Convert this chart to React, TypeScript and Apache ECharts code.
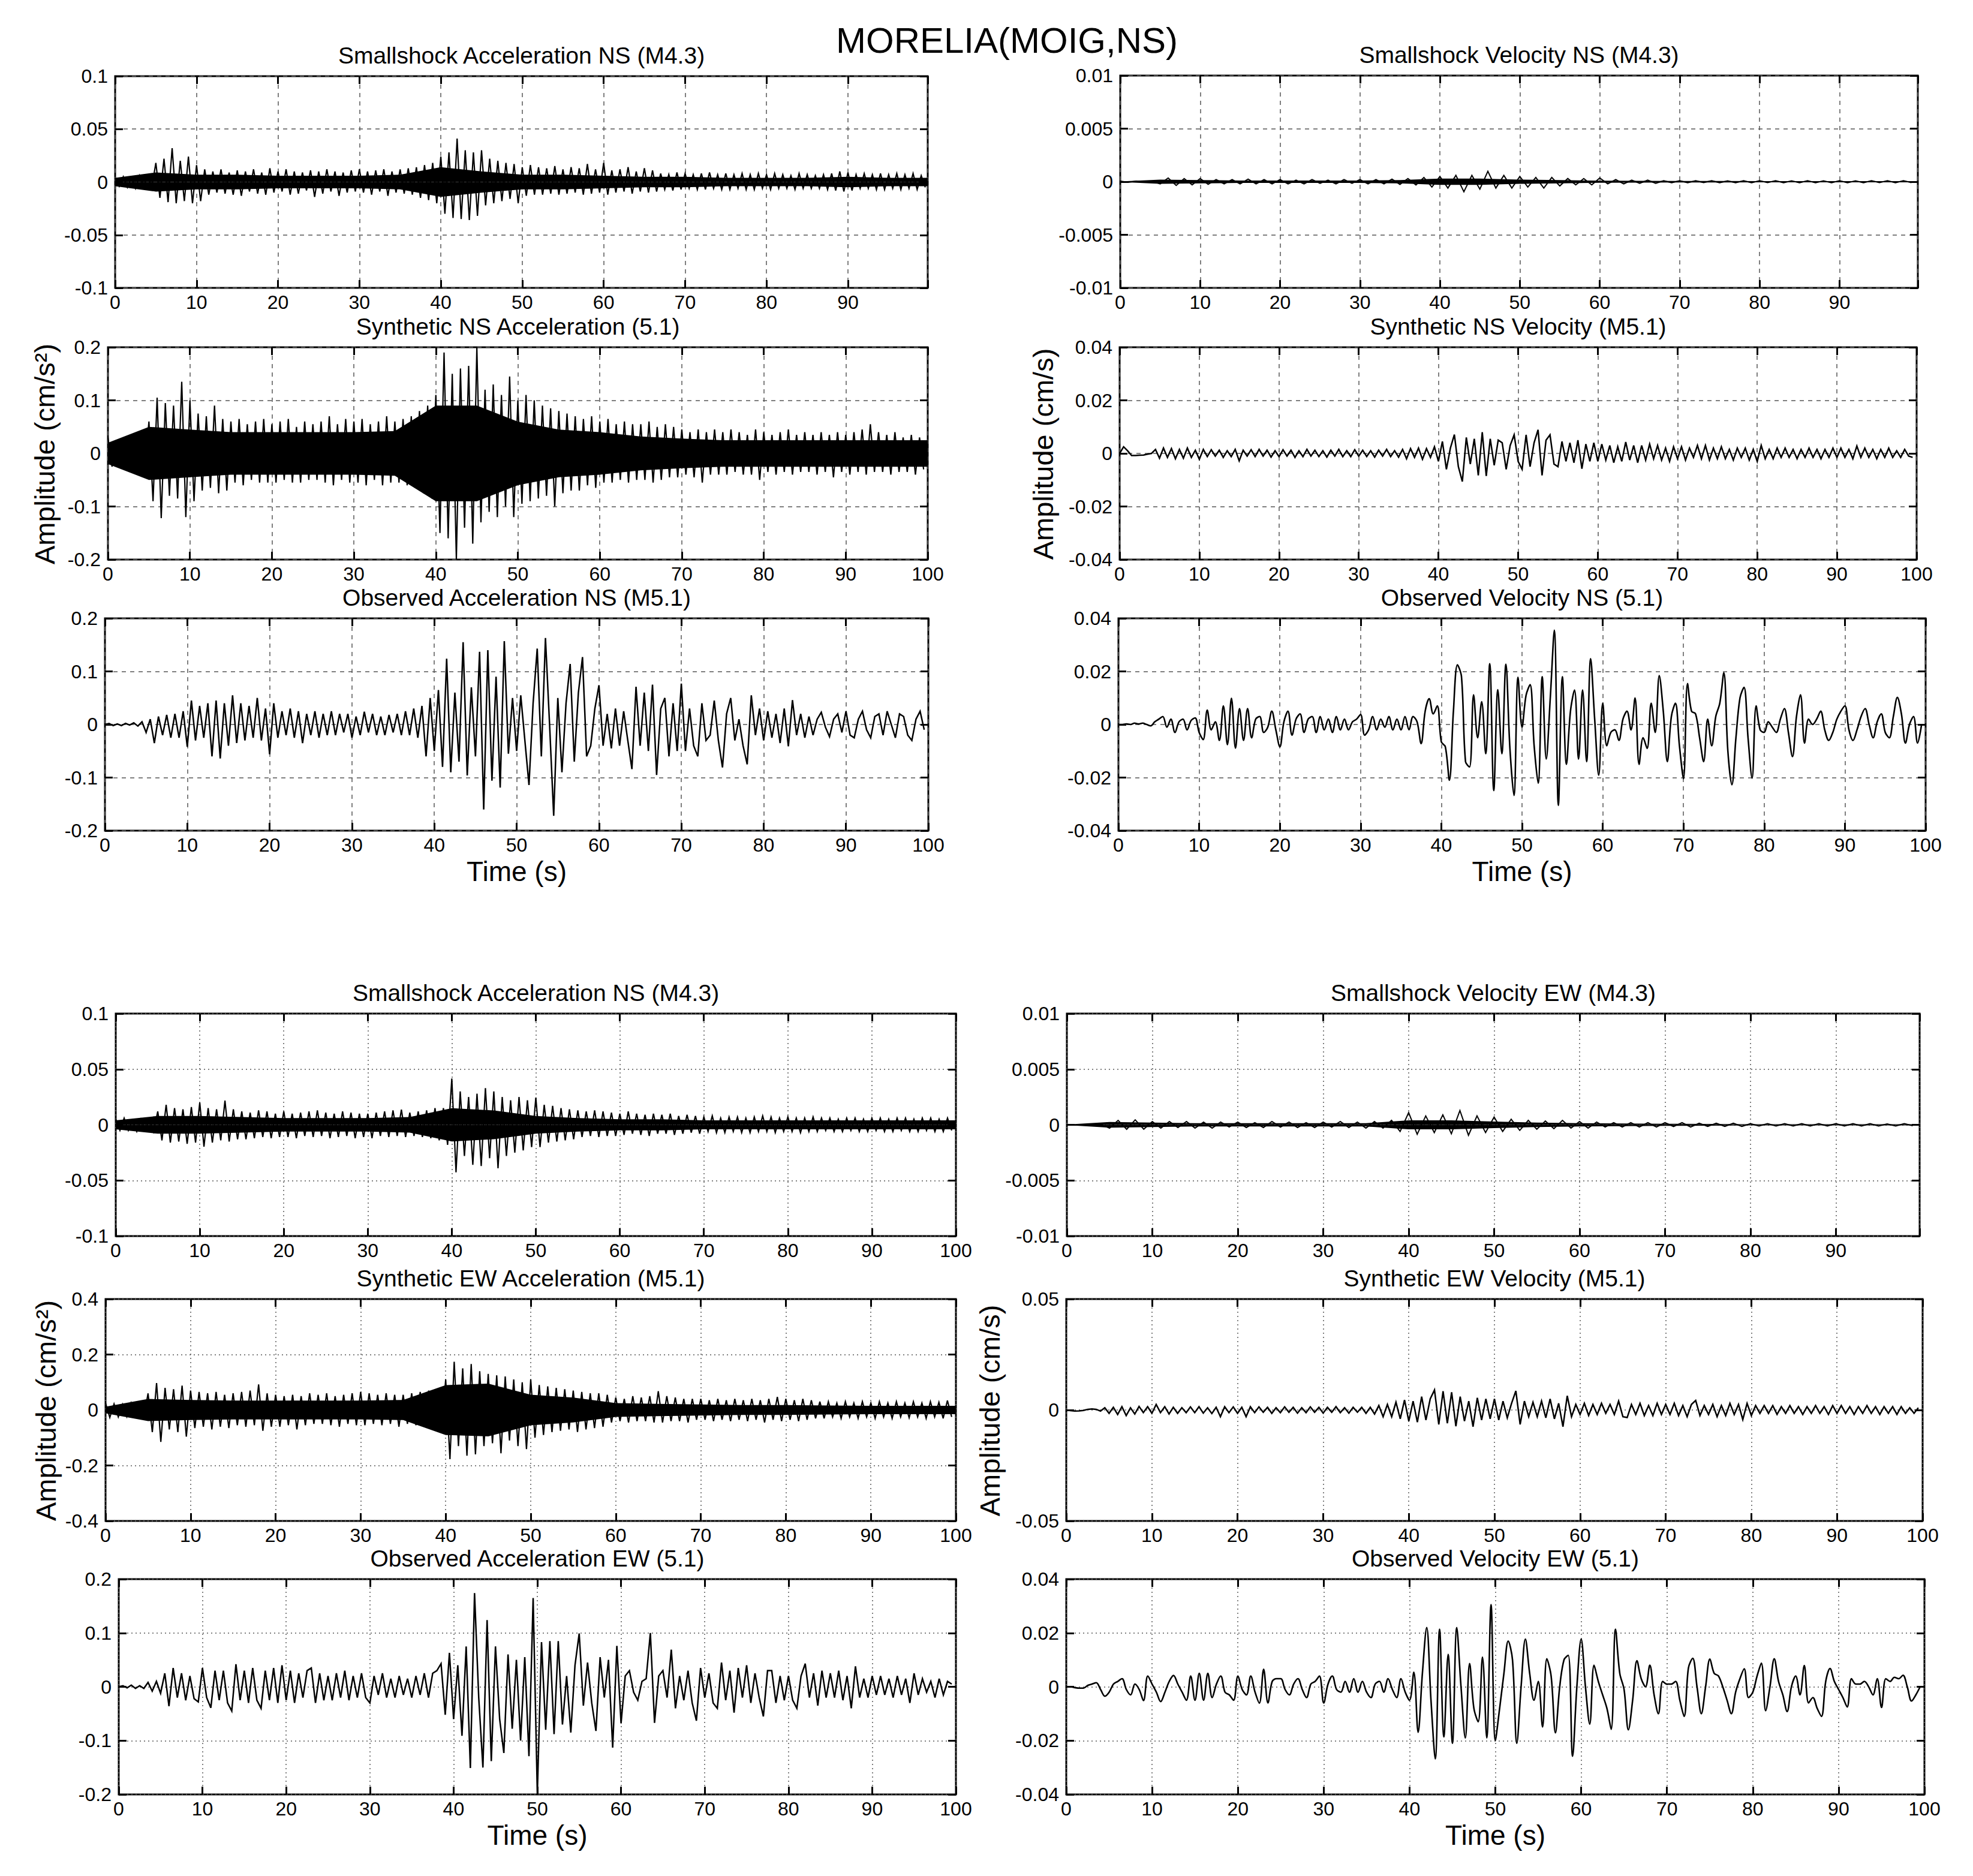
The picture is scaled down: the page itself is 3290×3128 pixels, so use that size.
import React, { useEffect, useRef } from 'react';
import * as echarts from 'echarts';

const FONT = 'Liberation Sans, Arial, Helvetica, sans-serif';

// ---------- DATA ----------
// Sample step (s) of each trace
const DT_HALF = 0.5;
const DT_ONE = 1;
const DT_CORE = 5;

// Smallshock acceleration NS (top-left), units 1e-3 cm/s², every 0.5 s
const smallAccNS = [
  4,-4,5,-5,4,-6,6,-4,5,-5,
  18,-15,22,-19,32,-20,20,-18,24,-20,
  16,-18,12,-12,10,-10,12,-11,9,-12,
  11,-13,10,-9,12,-11,9,-12,13,-10,
  10,-9,12,-12,10,-11,9,-8,11,-14,
  10,-11,12,-9,10,-13,9,-10,11,-9,
  12,-10,10,-12,11,-9,12,-13,10,-10,
  12,-11,13,-12,14,-15,16,-17,18,-20,
  24,-30,28,-34,41,-35,30,-36,28,-32,
  30,-22,22,-20,20,-18,18,-16,17,-20,
  14,-13,16,-12,14,-12,13,-11,15,-12,
  12,-11,14,-10,13,-12,17,-11,12,-10,
  18,-12,11,-10,12,-9,14,-11,10,-9,
  13,-10,11,-9,8,-7,7,-8,9,-7,
  8,-6,7,-7,8,-7,9,-6,7,-7,
  8,-7,7,-6,8,-7,7,-7,8,-6,
  7,-7,8,-6,7,-6,6,-7,8,-6,
  7,-6,6,-6,7,-7,8,-8,10,-9,
  9,-8,7,-6,8,-6,7,-7,8,-7,
  7,-6,8,-7,7,-6,8,-7,6,-5,
];
// solid core half-width of that trace, every 5 s (1e-3)
const smallAccNSCore = [4,9,7,7,6,6,6,7,14,10,7,7,6,5,5,4,4,4,5,4,4];

// Synthetic NS acceleration, units 1e-3 cm/s², every 0.5 s
const synAccNS = [
  30,-25,25,-28,20,-25,30,-28,35,-30,
  60,-90,105,-122,95,-80,90,-85,135,-120,
  100,-90,75,-70,70,-65,90,-75,65,-70,
  60,-55,65,-60,55,-50,60,-55,65,-55,
  55,-55,60,-50,65,-55,50,-55,60,-50,
  55,-50,60,-55,70,-60,55,-50,65,-55,
  60,-55,65,-60,55,-50,60,-60,70,-55,
  60,-55,65,-60,70,-65,80,-75,90,-85,
  110,-150,190,-160,150,-200,160,-140,165,-170,
  200,-130,120,-110,130,-120,110,-100,145,-120,
  100,-95,110,-90,100,-85,90,-80,85,-100,
  80,-75,75,-70,70,-70,65,-60,70,-65,
  60,-55,65,-55,55,-50,60,-55,55,-50,
  55,-50,60,-55,50,-50,55,-45,50,-45,
  45,-40,40,-45,45,-55,40,-40,45,-40,
  40,-40,45,-35,40,-40,35,-40,45,-50,
  40,-35,35,-40,40,-35,45,-40,35,-35,
  40,-35,35,-40,40,-35,35,-45,40,-35,
  35,-40,40,-35,45,-40,55,-35,40,-35,
  35,-40,40,-35,30,-35,35,-40,30,-30,
];
const synAccNSCore = [20,50,45,40,40,40,40,42,90,90,60,45,40,32,28,25,25,25,25,25,25];

// Observed NS acceleration, units 1e-3 cm/s², every 0.5 s
const obsAccNS = [
  0,2,-2,1,-2,2,-1,3,-3,5,
  -15,10,-35,15,-20,18,-25,20,-25,25,
  -42,45,-30,35,-25,40,-60,45,-64,40,
  -40,55,-35,40,-30,35,-25,50,-30,30,
  -56,40,-25,25,-20,30,-25,25,-35,20,
  -20,25,-25,20,-20,25,-20,20,-15,20,
  -25,15,-20,24,-15,20,-20,15,-20,18,
  -15,20,-20,25,-20,30,-25,35,-60,50,
  -50,65,-80,124,-90,60,-70,155,-96,70,
  -60,137,-160,140,-106,90,-119,157,-55,50,
  -50,55,-30,-114,40,143,-60,163,0,-172,
  50,-90,40,114,-70,60,127,-60,-40,30,
  74,-40,20,-45,30,-40,25,-30,-84,71,
  -40,60,-50,75,-95,30,50,-60,40,-50,
  77,-50,30,-40,-60,40,-30,-20,45,-30,
  -81,20,50,-30,10,-40,-75,55,-20,30,
  -30,25,-25,20,-35,30,-41,46,-20,20,
  -25,15,-20,10,23,-5,-23,10,20,-15,
  25,-20,-25,10,25,-10,-25,15,20,-20,
  25,0,-25,20,15,-20,-30,10,25,-10,
];

// Smallshock velocity NS, units 1e-4 cm/s, every 1 s
const smallVelNS = [
  0.5,-0.5,0.5,-0.5,0.5,-2,3.5,-3.5,3,-3,
  3,-2.5,2,-2,2,-2,2.5,-2,2,-2,
  2,-2,1.5,-2,2,-1.5,1.5,-2,2,-1.5,
  2,-2,2,-2,2.5,-2.5,3,-3,4,-5,
  5,-6,6,-9.4,6,-7,9.8,-6,6,-6,
  5,-5,4,-6,4,-4,3,-3,3,-3,
  3.5,-2,2,-2,1.5,-1.5,1.5,-1.5,1,-1,
  1,-1,1,-0.8,1,-1,0.8,-1,1,-1,
  1,-0.8,1,-1,0.8,-1,1,-1,0.8,-1,
  1,-1,0.8,-1,1,-0.8,1,-1,1,-0.8,
];
const smallVelNSCore = [0.3,2,1.5,1.2,1.2,1.2,1.2,1.5,3,3,2,1.5,1,0.8,0.7,0.7,0.6,0.6,0.6,0.6,0.6];

// Synthetic NS velocity, units 1e-4 cm/s, every 0.5 s
const synVelNS = [
  0,25,10,-8,-8,-7,-6,-3,0,15,
  -18,20,-15,18,-20,15,-18,20,-15,12,
  -22,15,-12,14,-10,12,-15,10,-12,15,
  -28,12,-10,14,-12,15,-10,12,-14,10,
  -12,14,-10,12,-15,10,-12,15,-10,12,
  -12,10,-14,12,-10,15,-12,10,-12,14,
  -10,12,-12,10,-14,12,-10,15,-12,10,
  -14,15,-20,18,-15,20,-22,18,-15,25,
  -30,45,-60,20,71,-50,-106,60,-40,55,
  -83,80,-85,55,-45,50,40,-60,30,70,
  -30,-60,70,-50,40,89,-83,50,70,-40,
  -50,45,-30,40,-35,50,-58,35,-30,40,
  -30,35,-25,30,-35,25,-30,43,-25,30,
  -35,30,-25,35,-20,30,-25,20,-30,25,
  -20,25,-25,20,-15,30,-20,30,-25,20,
  -20,25,-20,15,-25,20,-15,20,-25,15,
  -30,30,-20,15,-20,20,-15,20,-15,15,
  -20,15,-15,20,-15,15,-20,15,-15,20,
  -15,20,-15,15,-20,28,-15,20,-15,15,
  -20,15,-15,20,-15,10,-15,15,-10,-15,
];

// Observed NS velocity, units 1e-3 cm/s, every 0.5 s
const obsVelNS = [
  0,0,0.2,0,0.5,0.2,0.5,0,-0.5,1,
  2,3,-1,2,-3,1,2,-2,1.5,2.5,
  -3,-5.7,5.4,-2,1,-6,7,-7.6,9.9,-8.9,
  6,-6,6,-5,2,3,-3,-1,5,-2,
  -8.4,1,5,-4,2,4,-3,2,3,-3,
  3,-2,2,-3,3,-2,2,-2,1,2,
  3.8,-4,-2,3,-2,2,-1,3,-2,2,
  -2,3,-2,3,1,-7.2,5,9.7,4,7,
  -6.5,-8.4,-21,5,22.5,18,-14,-16,11.2,-5,
  8.6,-11,22.9,-24.9,13.1,-11,22.7,-9,-26.7,17.8,
  -1,11,15,-8,-22.1,18,-13,10,35.5,-30.5,
  18,-15,5,13,-13,13,-14,24.8,2,-19.1,
  8,-8,-3,-2,-6,2,5,-2,10,-15,
  -5,-9,8,-3,18.4,5,-14,3,8,-8,
  -20.4,15.4,5,4,-5,-14,2,-8,3,8,
  19.5,-10,-22.7,-5,10,14,-5,-20.2,7,-2,
  -3,1,-1,-3,2,6,-3,-12.1,3,11.2,
  -7,2,0,2,5,-2,-6,-3,2,5,
  7,-2,-6,-2,3,6,0,-5,1,4,
  -3,-5,3,10.2,4,-7,0,3,-7,0,
];

// Smallshock acceleration (lower block), units 1e-3 cm/s², every 0.5 s
const smallAccEW = [
  5,-5,6,-5,4,-6,5,-5,5,-6,
  12,-14,18,-16,15,-15,14,-17,16,-16,
  20,-19.6,15,-16,14,-14,21.8,-15,14,-13,
  12,-13,11,-12,13,-11,12,-12,10,-11,
  12,-11,10,-12,11,-10,12,-11,13,-10,
  11,-12,10,-11,12,-10,11,-12,10,-11,
  10,-12,11,-10,12,-11,13,-10,13.7,-11,
  11,-10,12,-11,13,-12,15,-14,15,-18,
  41.6,-42.7,30,-28,25,-36,28,-37,33,-30,
  30,-39,25,-28,22,-25,25,-23,22,-20,
  24.5,-20,18,-16,17,-15,15,-14,14,-13,
  13,-11,12,-10,13,-11,12,-10,11,-10,
  10,-9,12,-8,10,-9,9,-10,10,-8,
  9,-8,10,-9,8,-8,9,-7,8,-8,
  7,-6,8,-7,6,-7,7,-6,7,-7,
  6,-7,7,-6,8,-6,7,-7,6,-6,
  7,-6,6,-7,6,-6,7,-6,6,-5,
  6,-6,5,-6,6,-5,6,-6,5,-6,
  6,-5,6,-6,5,-6,6,-5,6,-6,
  5,-6,6,-5,6,-6,5,-6,6,-5,
];
const smallAccEWCore = [4,8,8,7,6,6,6,7,15,13,8,6,5,5,4,4,4,4,4,4,4];

// Smallshock velocity EW, units 1e-4 cm/s, every 1 s
const smallVelEW = [
  0.3,-0.3,0.3,-0.3,0.3,-3,4,-4,4.5,-4,
  3,-3,3,-2.5,3,-3,2.5,-3,2.5,-2,
  2.5,-2.5,2,-2.5,3,-2,2.5,-2.5,2,-2.5,
  2.5,-2,3,-2.5,2.5,-3,3,-3,4,-6,
  11,-8.5,8,-7,9,-8,12.8,-9.4,8,-7,
  7,-6,5,-5,4,-4,3.5,-3.5,4,-3,
  3,-3,2.5,-2,2,-2,2,-2,2,-2,
  2,-1.5,2,-2,1.5,-1.5,1.5,-1.5,1.5,-1.5,
  1,-1,1,-1,1,-1,1,-1,1,-1,
  1,-1,1,-1,1,-1,0.8,-1,1,-0.8,
];
const smallVelEWCore = [0.3,2.5,2,1.5,1.5,1.5,1.5,1.5,4,4,3,2,1.5,1.2,1,0.8,0.6,0.6,0.6,0.6,0.6];

// Synthetic EW acceleration, units 1e-3 cm/s², every 0.5 s
const synAccEW = [
  25,-27,22,-25,20,-24,25,-22,24,-26,
  60,-80,97,-115,80,-70,75,-80,88,-96,
  70,-65,65,-60,60,-70,65,-60,55,-65,
  60,-55,65,-60,70,-55,92,-75,60,-60,
  55,-60,50,-55,55,-70,50,-55,60,-50,
  55,-50,60,-55,50,-60,55,-50,60,-55,
  65,-55,60,-50,55,-55,60,-50,55,-60,
  55,-50,60,-55,65,-60,70,-65,75,-80,
  110,-177,174,-130,150,-165,166,-160,140,-130,
  130,-120,125,-156,121,-110,110,-130,100,-141,
  110,-100,90,-90,85,-80,80,-75,75,-70,
  70,-79,65,-70,60,-65,60,-60,55,-45,
  45,-40,40,-45,50,-40,45,-40,50,-45,
  68,-45,50,-40,45,-40,40,-45,40,-35,
  40,-35,35,-40,40,-35,35,-40,40,-35,
  35,-40,40,-35,35,-45,40,-35,47,-40,
  40,-35,35,-40,40,-35,35,-30,30,-30,
  30,-25,25,-30,30,-25,25,-30,30,-25,
  25,-30,30,-25,25,-30,30,-25,25,-28,
  30,-25,25,-30,30,-25,28,-30,34,-25,
];
const synAccEWCore = [12,40,36,34,34,34,34,36,90,95,55,45,25,22,20,18,18,16,15,15,15];

// Synthetic EW velocity, units 1e-4 cm/s, every 0.5 s
const synVelEW = [
  0,-3,-5,-4,-2,3,5,3,-5,10,
  -15,12,-20,15,-25,10,-18,16,-12,15,
  -15,25,-12,15,-18,12,-15,10,-12,14,
  -12,15,-14,10,-16,12,-30,15,-12,14,
  -15,12,-30,15,-12,14,-10,12,-15,10,
  -12,14,-10,12,-14,10,-12,14,-10,12,
  -14,12,-10,15,-12,10,-14,12,-10,12,
  -15,12,-18,20,-30,25,-30,35,-40,45,
  -50,40,-55,60,-45,50,90,-65,85,-60,
  80,-73,60,-50,40,-75,55,-45,50,-40,
  50,-45,40,-35,30,86,-65,40,-30,35,
  -30,40,-35,50,-40,30,-75,64,-30,25,
  -20,30,-25,25,-20,30,-15,25,-20,40,
  -30,-34,25,-20,30,-25,20,-25,30,-20,
  25,-20,30,-25,20,-30,25,43,-25,20,
  -20,25,-30,20,-25,30,-20,25,-43,30,
  -25,20,-15,20,-15,20,-20,15,-15,20,
  -15,15,-20,15,-15,20,-15,15,-20,20,
  -15,20,-15,15,-20,15,-15,20,-15,15,
  -20,15,-15,15,-20,15,-15,10,-15,10,
];

// Observed EW acceleration, units 1e-3 cm/s², every 0.5 s
const obsAccEW = [
  0,2,-2,3,-3,2,-3,8,-8,10,
  -12,25,-36,35,-20,25,-25,20,-22,-28,
  35,-20,-39,30,-25,30,-30,-45,42,-25,
  30,-30,35,-25,-40,30,-25,35,-30,40,
  -25,30,-30,25,-20,30,35,-30,25,-25,
  20,-25,25,-20,30,-25,20,-20,25,-20,
  -30,20,-15,25,-20,15,-20,20,-15,15,
  -20,20,-15,25,-20,25,30,43,-52,63,
  -60,40,-91,75,-151,174,-20,-150,124,-138,
  75,-60,-123,60,-78,50,-100,55,-129,165,
  -199,83,-80,85,-88,85,-70,20,-85,40,
  99,-35,45,-30,-82,55,-20,50,-113,76,
  -68,20,30,-10,-25,10,15,100,-67,20,
  30,-20,69,-40,20,-25,30,-30,-63,35,
  -20,25,-30,-40,45,-25,30,-48,35,-20,
  40,-30,25,-20,-55,30,30,-30,20,-25,
  20,-25,-40,20,43,-20,25,-35,30,-20,
  25,-20,30,-25,20,-40,38,-20,15,-20,
  20,-15,20,-15,15,-20,20,-15,15,-30,
  25,-15,15,-10,10,-20,15,-15,10,5,
];

// Observed EW velocity, units 1e-3 cm/s, every 0.5 s
const obsVelEW = [
  0,0,-0.3,-0.5,-0.5,0.5,1,1.5,-1,-3.5,
  -2,1,2,3,-1,-3,1,-1,-5.1,4,
  1,-2,-5.5,-2,2,4.2,1,-2,-5,4,
  -5,5,-5,5,-4,1,4,-2,-3,-5,
  4,-1,-3,4,-2,-6.1,6.5,-6,2,3,
  3,-1,-3,1,3,-1,-4,1,2,4,
  -6,1,4,-1,-2,2,-2,3,-2,2,
  -2,-4,1,2,-2,3,-1,-4,3,-2,
  -5,5.4,-16.9,5,22,-5,-26.8,21.4,-18.6,12,
  -21,22,0,-19,8.6,-8,-13,11,-19,30.5,
  -20,-8,5,17,10,-21,0,17.7,5,-5,
  2,-14.9,10.4,4,-17.1,0,10,11.7,-25.8,0,
  17.7,0,-13.9,8,2,-3,-8,-15.8,21.4,5,
  -1,-16,-5,9.7,3,0,8,-3,-10,2,
  1,1,2,-5,-11,7,10.6,0,-10,0,
  10.3,5,4,0,-5,-10,-2,3,6.7,-4,
  -2,4,8.8,-8.9,0,10.4,2,-3,-9.2,0,
  4,-3,7.9,-6,-4,-8,-11,2,6.8,2,
  -1,-4,-7.5,3,1,1,2,0,-3,3,
  -7.7,3,2,3.5,3,4.3,0,-5.3,-3,0,
];

const panelTitles = [
  'Smallshock Acceleration NS (M4.3)',
  'Synthetic NS Acceleration (5.1)',
  'Observed Acceleration NS (M5.1)',
  'Smallshock Velocity NS (M4.3)',
  'Synthetic NS Velocity (M5.1)',
  'Observed Velocity NS (5.1)',
  'Smallshock Acceleration NS (M4.3)',
  'Smallshock Velocity EW (M4.3)',
  'Synthetic EW Acceleration (M5.1)',
  'Synthetic EW Velocity (M5.1)',
  'Observed Acceleration EW (5.1)',
  'Observed Velocity EW (5.1)',
];
const mainTitle = 'MORELIA(MOIG,NS)';
const yLabelAcc = 'Amplitude (cm/s²)';
const yLabelVel = 'Amplitude (cm/s)';
const xLabel = 'Time (s)';

// y-axis ranges [max, interval] and x max for each panel
const yRanges = [
  [0.1, 0.05], [0.2, 0.1], [0.2, 0.1],
  [0.01, 0.005], [0.04, 0.02], [0.04, 0.02],
  [0.1, 0.05], [0.01, 0.005], [0.4, 0.2],
  [0.05, 0.05], [0.2, 0.1], [0.04, 0.02],
];
const xMaxes = [99.8, 100, 100, 99.8, 100, 100, 100, 99.8, 100, 100, 100, 100];

// ---------- LAYOUT ----------
type Panel = {
  l: number; t: number; r: number; b: number;
  values: number[]; dt: number; scale: number;
  core?: number[]; lower: boolean; lw: number; time?: boolean; smooth?: number;
};

const panels: Panel[] = [
  { l: 192, t: 127, r: 1547, b: 480, values: smallAccNS, dt: DT_HALF, scale: 1e-3, core: smallAccNSCore, lower: false, lw: 2.2 },
  { l: 180, t: 579, r: 1547, b: 933, values: synAccNS, dt: DT_HALF, scale: 1e-3, core: synAccNSCore, lower: false, lw: 2.2 },
  { l: 175, t: 1031, r: 1548, b: 1385, values: obsAccNS, dt: DT_HALF, scale: 1e-3, lower: false, lw: 2.5, time: true },
  { l: 1868, t: 126, r: 3198, b: 480, values: smallVelNS, dt: DT_ONE, scale: 1e-4, core: smallVelNSCore, lower: false, lw: 2 },
  { l: 1867, t: 579, r: 3196, b: 933, values: synVelNS, dt: DT_HALF, scale: 1e-4, lower: false, lw: 2.5 },
  { l: 1865, t: 1031, r: 3211, b: 1385, values: obsVelNS, dt: DT_HALF, scale: 1e-3, lower: false, lw: 2.6, time: true, smooth: 0.35 },
  { l: 193, t: 1690, r: 1594, b: 2061, values: smallAccEW, dt: DT_HALF, scale: 1e-3, core: smallAccEWCore, lower: true, lw: 2.2 },
  { l: 1779, t: 1690, r: 3201, b: 2061, values: smallVelEW, dt: DT_ONE, scale: 1e-4, core: smallVelEWCore, lower: true, lw: 2 },
  { l: 176, t: 2166, r: 1594, b: 2536, values: synAccEW, dt: DT_HALF, scale: 1e-3, core: synAccEWCore, lower: true, lw: 2.2 },
  { l: 1778, t: 2166, r: 3206, b: 2536, values: synVelEW, dt: DT_HALF, scale: 1e-4, lower: true, lw: 2.5 },
  { l: 198, t: 2633, r: 1594, b: 2992, values: obsAccEW, dt: DT_HALF, scale: 1e-3, lower: true, lw: 2.5, time: true },
  { l: 1778, t: 2633, r: 3209, b: 2992, values: obsVelEW, dt: DT_HALF, scale: 1e-3, lower: true, lw: 2.6, time: true, smooth: 0.35 },
];

const yLabels = [
  { x: 74, y: 757, text: yLabelAcc },
  { x: 1739, y: 757, text: yLabelVel },
  { x: 76, y: 2352, text: yLabelAcc },
  { x: 1650, y: 2352, text: yLabelVel },
];

const toPairs = (vals: number[], dt: number, scale: number) =>
  vals.map((v, i) => [Math.round(i * dt * 100) / 100, v * scale]);

const fmtY = (v: number) => String(Math.round(v * 1e6) / 1e6);
const fmtX = (v: number) => (Math.abs(v - Math.round(v / 10) * 10) < 1e-6 ? String(Math.round(v)) : '');

function textStyle(text: string, size: number, lh: number) {
  return {
    text, fill: '#000', fontSize: size, fontFamily: FONT, lineHeight: lh,
    align: 'center', verticalAlign: 'middle', textAlign: 'center', textVerticalAlign: 'middle',
  };
}

function buildOption() {
  const grid: any[] = [];
  const xAxis: any[] = [];
  const yAxis: any[] = [];
  const series: any[] = [];
  const graphic: any[] = [];

  panels.forEach((p, g) => {
    const [ymax, yint] = yRanges[g];
    const xmax = xMaxes[g];
    const dash = p.lower ? [2, 5] : [7, 7];
    grid.push({
      left: p.l, top: p.t, width: p.r - p.l, height: p.b - p.t,
      show: true, borderColor: '#000', borderWidth: 3, backgroundColor: '#fff',
      containLabel: false, outerBoundsMode: 'none',
    });
    const tick = { show: true, inside: true, length: 13, lineStyle: { color: '#000', width: 3 } };
    const split = { show: true, lineStyle: { color: '#555', width: 1.5, type: dash } };
    xAxis.push({
      gridIndex: g, type: 'value', min: 0, max: xmax, interval: 10, position: 'bottom',
      axisLine: { show: false, onZero: false }, axisTick: tick, splitLine: split,
      axisLabel: { show: true, formatter: fmtX, color: '#000', fontSize: 32, fontFamily: FONT, margin: 11, lineHeight: 26 },
    });
    xAxis.push({
      gridIndex: g, type: 'value', min: 0, max: xmax, interval: 10, position: 'top',
      axisLine: { show: false, onZero: false }, axisTick: tick, splitLine: { show: false },
      axisLabel: { show: false },
    });
    yAxis.push({
      gridIndex: g, type: 'value', min: -ymax, max: ymax, interval: yint, position: 'left',
      axisLine: { show: false, onZero: false }, axisTick: tick, splitLine: split,
      axisLabel: { show: true, formatter: fmtY, color: '#000', fontSize: 32, fontFamily: FONT, margin: 12, lineHeight: 26 },
    });
    yAxis.push({
      gridIndex: g, type: 'value', min: -ymax, max: ymax, interval: yint, position: 'right',
      axisLine: { show: false, onZero: false }, axisTick: tick, splitLine: { show: false },
      axisLabel: { show: false },
    });
    const xi = g * 2;
    const yi = g * 2;
    if (p.core) {
      const up = toPairs(p.core, DT_CORE, p.scale);
      const dn = toPairs(p.core.map((v) => -v), DT_CORE, p.scale);
      [up, dn].forEach((d) => {
        series.push({
          type: 'line', xAxisIndex: xi, yAxisIndex: yi, data: d, symbol: 'none', silent: true,
          lineStyle: { width: 0, color: '#000' }, areaStyle: { color: '#000', opacity: 1 }, z: 2,
        });
      });
    }
    series.push({
      type: 'line', xAxisIndex: xi, yAxisIndex: yi, data: toPairs(p.values, p.dt, p.scale),
      symbol: 'none', silent: true, clip: true, smooth: p.smooth || false,
      lineStyle: { width: p.lw, color: '#000', join: 'miter' }, z: 3,
    });

    const cx = (p.l + p.r) / 2;
    graphic.push({ type: 'text', x: cx, y: p.t - 35, silent: true, style: textStyle(panelTitles[g], 39, 30) });
    if (p.time) {
      graphic.push({ type: 'text', x: cx, y: p.b + 68, silent: true, style: textStyle(xLabel, 46, 36) });
    }
  });

  yLabels.forEach((yl) => {
    graphic.push({
      type: 'text', x: yl.x, y: yl.y, rotation: Math.PI / 2, silent: true,
      style: textStyle(yl.text, 47, 40),
    });
  });
  graphic.push({ type: 'text', x: 1679, y: 67, silent: true, style: textStyle(mainTitle, 60, 50) });

  return {
    animation: false,
    backgroundColor: '#fff',
    grid, xAxis, yAxis, series, graphic,
  };
}

export default function App() {
  const ref = useRef<HTMLDivElement>(null);
  useEffect(() => {
    if (!ref.current) return;
    const chart = echarts.init(ref.current, undefined, { renderer: 'svg' });
    chart.setOption(buildOption() as any);
    return () => chart.dispose();
  }, []);
  return (
    <div
      ref={ref}
      style={{ position: 'absolute', left: 0, top: 0, width: 3290, height: 3128, background: '#fff' }}
    />
  );
}
